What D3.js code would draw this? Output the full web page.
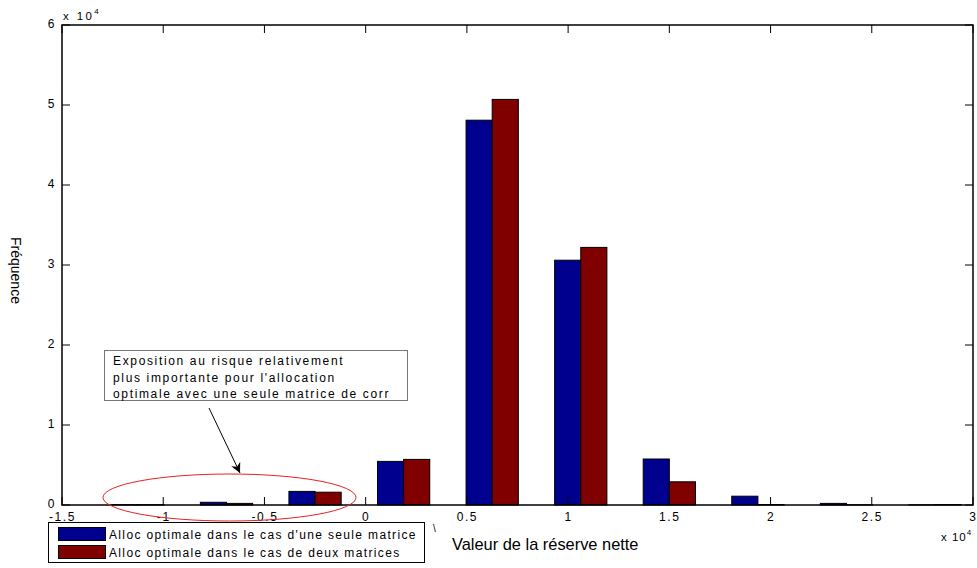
<!DOCTYPE html>
<html><head><meta charset="utf-8">
<script src="https://cdn.jsdelivr.net/npm/d3@7"></script>
<style>
body{margin:0;background:#fff;}
svg text{font-family:"Liberation Sans",Arial,sans-serif;fill:#000;}
</style></head>
<body><svg id="c" width="977" height="568"></svg>
<script>
// Data
const binCenters = [-11250, -6875, -2500, 1875, 6250, 10625, 15000, 19375, 23750, 28125];
const seriesNames = ["Alloc optimale dans le cas d'une seule matrice", "Alloc optimale dans le cas de deux matrices"];
const seriesOne = [40, 340, 1700, 5450, 48100, 30600, 5750, 1100, 200, 20];
const seriesTwo = [40, 200, 1600, 5700, 50700, 32200, 2900, 60, 30, 50];
const xTicks = [-15000, -10000, -5000, 0, 5000, 10000, 15000, 20000, 25000, 30000];
const xTickLabels = ["-1.5", "-1", "-0.5", "0", "0.5", "1", "1.5", "2", "2.5", "3"];
const yTicks = [0, 10000, 20000, 30000, 40000, 50000, 60000];
const yTickLabels = ["0", "1", "2", "3", "4", "5", "6"];
const annotationLines = ["Exposition au risque relativement", "plus importante pour l'allocation", "optimale avec une seule matrice de corr"];

const colors = ["#00008f", "#800000"];
const svg = d3.select("#c");
const L = 62, R = 973, T = 25, B = 505;
const x = d3.scaleLinear().domain([-15000, 30000]).range([L, R]);
const y = d3.scaleLinear().domain([0, 60000]).range([B, T]);

// bars
const binW = binCenters[1] - binCenters[0];
const barW = binW * 0.295;
[seriesOne, seriesTwo].forEach((vals, si) => {
  svg.append("g").selectAll("rect").data(vals).enter().append("rect")
    .attr("x", (d, i) => x(binCenters[i] + (si - 1) * barW))
    .attr("width", x(barW) - x(0))
    .attr("y", d => y(d))
    .attr("height", d => y(0) - y(d))
    .attr("fill", colors[si])
    .attr("stroke", "#000").attr("stroke-width", 1);
});

// axes box
const tl = 8;
const axB = d3.axisBottom(x).tickValues(xTicks).tickFormat((d, i) => xTickLabels[i]).tickSize(0).tickPadding(7);
const gB = svg.append("g").attr("transform", `translate(0,${B})`).call(axB);
const axL = d3.axisLeft(y).tickValues(yTicks).tickFormat((d, i) => yTickLabels[i]).tickSize(0).tickPadding(6);
const gL = svg.append("g").attr("transform", `translate(${L},0)`).call(axL);
[gB, gL].forEach(g => {
  g.select(".domain").remove();
  g.selectAll("text").attr("font-size", 12).style("letter-spacing", "1.6px")
    .attr("font-family", "Liberation Sans, Arial, sans-serif");
});
gB.selectAll("text").attr("dy", "0.71em");
gL.selectAll("text").attr("dy", "0.2em");
// inward ticks
const tg = svg.append("g").attr("stroke", "#000").attr("stroke-width", 1);
xTicks.forEach(v => {
  tg.append("line").attr("x1", x(v)).attr("x2", x(v)).attr("y1", B).attr("y2", B - tl);
  tg.append("line").attr("x1", x(v)).attr("x2", x(v)).attr("y1", T).attr("y2", T + tl);
});
yTicks.forEach(v => {
  tg.append("line").attr("x1", L).attr("x2", L + tl).attr("y1", y(v)).attr("y2", y(v));
  tg.append("line").attr("x1", R).attr("x2", R - tl).attr("y1", y(v)).attr("y2", y(v));
});
svg.append("rect").attr("x", L).attr("y", T).attr("width", R - L).attr("height", B - T)
  .attr("fill", "none").attr("stroke", "#000").attr("stroke-width", 1.5);

// exponent labels
function expo(xp, yp, sp) {
  const t = svg.append("text").attr("x", xp).attr("y", yp).attr("font-size", 11.5).style("letter-spacing", sp + "px");
  t.append("tspan").text("x 10");
  t.append("tspan").attr("dy", -6).attr("font-size", 8).text("4");
}
expo(63, 20, 2.4);
expo(941, 541, 1);

// axis titles
svg.append("text").attr("x", 452).attr("y", 550).attr("font-size", 16.4).text("Valeur de la réserve nette");
svg.append("text").attr("transform", "translate(11,237) rotate(90)").attr("font-size", 14).text("Fréquence");
svg.append("text").attr("x", 433).attr("y", 532).attr("font-size", 10).text("\\");

// annotation ellipse and arrow
svg.append("ellipse").attr("cx", 229.5).attr("cy", 497.5).attr("rx", 126.5).attr("ry", 23.5)
  .attr("fill", "none").attr("stroke", "#e82020").attr("stroke-width", 1);
svg.append("defs").append("marker").attr("id", "ah").attr("viewBox", "0 0 10 10")
  .attr("refX", 10).attr("refY", 5).attr("markerWidth", 10).attr("markerHeight", 10)
  .attr("markerUnits", "userSpaceOnUse").attr("orient", "auto")
  .append("path").attr("d", "M0,0 L10,5 L0,10 L3,5 Z").attr("fill", "#000");
svg.append("line").attr("x1", 209).attr("y1", 408).attr("x2", 240).attr("y2", 473)
  .attr("stroke", "#000").attr("stroke-width", 1).attr("marker-end", "url(#ah)");

// annotation box
svg.append("rect").attr("x", 104.5).attr("y", 350.5).attr("width", 303).attr("height", 50)
  .attr("fill", "#fff").attr("stroke", "#777").attr("stroke-width", 1);
svg.append("g").selectAll("text").data(annotationLines).enter().append("text")
  .attr("x", 113).attr("y", (d, i) => 365 + i * 16.5).attr("font-size", 12)
  .style("letter-spacing", "1.65px").text(d => d);

// legend
const lg = svg.append("g");
lg.append("rect").attr("x", 48.5).attr("y", 522.5).attr("width", 376).attr("height", 40)
  .attr("fill", "#fff").attr("stroke", "#000").attr("stroke-width", 1);
seriesNames.forEach((n, i) => {
  lg.append("rect").attr("x", 58.5).attr("y", 527.5 + i * 18).attr("width", 47).attr("height", 13)
    .attr("fill", colors[i]).attr("stroke", "#000");
  lg.append("text").attr("x", 109).attr("y", 538.5 + i * 18).attr("font-size", 12)
    .style("letter-spacing", "1.35px").text(n);
});
</script></body></html>
